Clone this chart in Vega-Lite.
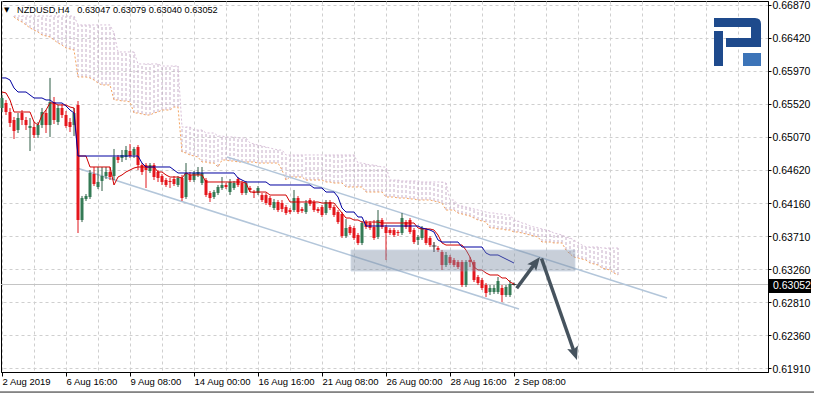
{
"$schema":"https://vega.github.io/schema/vega-lite/v6.json",
"width":767,"height":371,
"autosize":{"type":"none"},
"padding":{"left":1,"top":1,"right":46,"bottom":21},
"background":"#ffffff",
"config":{"view":{"stroke":"#000000","strokeWidth":1},"font":"Liberation Sans"},
"datasets":{
"candles":[
{"i":0,"o":0.65463,"c":0.65599,"h":0.65640,"l":0.65408},
{"i":1,"o":0.65531,"c":0.65408,"h":0.65572,"l":0.65367},
{"i":2,"o":0.65408,"c":0.65258,"h":0.65463,"l":0.65203},
{"i":3,"o":0.65299,"c":0.65149,"h":0.65340,"l":0.65039},
{"i":4,"o":0.65162,"c":0.65326,"h":0.65394,"l":0.65121},
{"i":5,"o":0.65394,"c":0.65299,"h":0.65435,"l":0.65230},
{"i":6,"o":0.65299,"c":0.65230,"h":0.65340,"l":0.65162},
{"i":7,"o":0.65190,"c":0.65217,"h":0.65326,"l":0.64875},
{"i":8,"o":0.65203,"c":0.65094,"h":0.65271,"l":0.65053},
{"i":9,"o":0.65094,"c":0.65230,"h":0.65271,"l":0.65053},
{"i":10,"o":0.65230,"c":0.65408,"h":0.65463,"l":0.65190},
{"i":11,"o":0.65394,"c":0.65230,"h":0.65435,"l":0.65121},
{"i":12,"o":0.65230,"c":0.65545,"h":0.65873,"l":0.65067},
{"i":13,"o":0.65545,"c":0.65299,"h":0.65613,"l":0.65244},
{"i":14,"o":0.65271,"c":0.65463,"h":0.65504,"l":0.65230},
{"i":15,"o":0.65463,"c":0.65367,"h":0.65517,"l":0.65326},
{"i":16,"o":0.65367,"c":0.65217,"h":0.65422,"l":0.65190},
{"i":17,"o":0.65271,"c":0.65203,"h":0.65326,"l":0.65135},
{"i":18,"o":0.65230,"c":0.65394,"h":0.65463,"l":0.65080},
{"i":19,"o":0.65504,"c":0.63933,"h":0.65558,"l":0.63755},
{"i":20,"o":0.63933,"c":0.64233,"h":0.64261,"l":0.63905},
{"i":21,"o":0.64220,"c":0.64261,"h":0.64288,"l":0.64192},
{"i":22,"o":0.64247,"c":0.64575,"h":0.64616,"l":0.64220},
{"i":23,"o":0.64561,"c":0.64425,"h":0.64657,"l":0.64397},
{"i":24,"o":0.64384,"c":0.64452,"h":0.64657,"l":0.64356},
{"i":25,"o":0.64466,"c":0.64534,"h":0.64657,"l":0.64329},
{"i":26,"o":0.64534,"c":0.64589,"h":0.64657,"l":0.64493},
{"i":27,"o":0.64589,"c":0.64520,"h":0.64657,"l":0.64479},
{"i":28,"o":0.64534,"c":0.64793,"h":0.64903,"l":0.64479},
{"i":29,"o":0.64793,"c":0.64752,"h":0.64821,"l":0.64711},
{"i":30,"o":0.64780,"c":0.64821,"h":0.64889,"l":0.64725},
{"i":31,"o":0.64793,"c":0.64889,"h":0.64944,"l":0.64752},
{"i":32,"o":0.64875,"c":0.64807,"h":0.64971,"l":0.64780},
{"i":33,"o":0.64821,"c":0.64903,"h":0.64930,"l":0.64780},
{"i":34,"o":0.64930,"c":0.64684,"h":0.64957,"l":0.64616},
{"i":35,"o":0.64684,"c":0.64589,"h":0.64711,"l":0.64548},
{"i":36,"o":0.64684,"c":0.64616,"h":0.64711,"l":0.64370},
{"i":37,"o":0.64602,"c":0.64684,"h":0.64711,"l":0.64575},
{"i":38,"o":0.64684,"c":0.64520,"h":0.64711,"l":0.64479},
{"i":39,"o":0.64589,"c":0.64507,"h":0.64616,"l":0.64452},
{"i":40,"o":0.64534,"c":0.64452,"h":0.64561,"l":0.64411},
{"i":41,"o":0.64479,"c":0.64411,"h":0.64507,"l":0.64384},
{"i":42,"o":0.64466,"c":0.64452,"h":0.64507,"l":0.64370},
{"i":43,"o":0.64493,"c":0.64425,"h":0.64534,"l":0.64397},
{"i":44,"o":0.64411,"c":0.64507,"h":0.64534,"l":0.64384},
{"i":45,"o":0.64507,"c":0.64233,"h":0.64548,"l":0.64192},
{"i":46,"o":0.64247,"c":0.64575,"h":0.64711,"l":0.64220},
{"i":47,"o":0.64548,"c":0.64479,"h":0.64589,"l":0.64452},
{"i":48,"o":0.64479,"c":0.64575,"h":0.64602,"l":0.64452},
{"i":49,"o":0.64548,"c":0.64589,"h":0.64657,"l":0.64520},
{"i":50,"o":0.64438,"c":0.64575,"h":0.64657,"l":0.64411},
{"i":51,"o":0.64479,"c":0.64274,"h":0.64507,"l":0.64247},
{"i":52,"o":0.64302,"c":0.64233,"h":0.64329,"l":0.64179},
{"i":53,"o":0.64247,"c":0.64315,"h":0.64343,"l":0.64220},
{"i":54,"o":0.64302,"c":0.64384,"h":0.64411,"l":0.64274},
{"i":55,"o":0.64370,"c":0.64411,"h":0.64520,"l":0.64343},
{"i":56,"o":0.64411,"c":0.64384,"h":0.64438,"l":0.64356},
{"i":57,"o":0.64315,"c":0.64452,"h":0.64493,"l":0.64274},
{"i":58,"o":0.64370,"c":0.64438,"h":0.64466,"l":0.64343},
{"i":59,"o":0.64493,"c":0.64411,"h":0.64520,"l":0.64384},
{"i":60,"o":0.64438,"c":0.64302,"h":0.64466,"l":0.64274},
{"i":61,"o":0.64302,"c":0.64438,"h":0.64466,"l":0.64274},
{"i":62,"o":0.64370,"c":0.64343,"h":0.64397,"l":0.64315},
{"i":63,"o":0.64315,"c":0.64302,"h":0.64343,"l":0.64233},
{"i":64,"o":0.64302,"c":0.64370,"h":0.64397,"l":0.64274},
{"i":65,"o":0.64274,"c":0.64206,"h":0.64302,"l":0.64179},
{"i":66,"o":0.64274,"c":0.64165,"h":0.64302,"l":0.64138},
{"i":67,"o":0.64233,"c":0.64138,"h":0.64261,"l":0.64110},
{"i":68,"o":0.64097,"c":0.64179,"h":0.64220,"l":0.64069},
{"i":69,"o":0.64179,"c":0.64069,"h":0.64206,"l":0.64042},
{"i":70,"o":0.64165,"c":0.64083,"h":0.64206,"l":0.64042},
{"i":71,"o":0.64110,"c":0.64028,"h":0.64138,"l":0.64001},
{"i":72,"o":0.64069,"c":0.64042,"h":0.64097,"l":0.64015},
{"i":73,"o":0.64069,"c":0.64233,"h":0.64343,"l":0.64042},
{"i":74,"o":0.64233,"c":0.64042,"h":0.64261,"l":0.64015},
{"i":75,"o":0.64083,"c":0.64056,"h":0.64110,"l":0.64028},
{"i":76,"o":0.64042,"c":0.64165,"h":0.64206,"l":0.64015},
{"i":77,"o":0.64206,"c":0.64151,"h":0.64233,"l":0.64124},
{"i":78,"o":0.64179,"c":0.64069,"h":0.64206,"l":0.64042},
{"i":79,"o":0.64083,"c":0.64056,"h":0.64110,"l":0.64028},
{"i":80,"o":0.64110,"c":0.64001,"h":0.64138,"l":0.63974},
{"i":81,"o":0.64028,"c":0.64179,"h":0.64206,"l":0.64001},
{"i":82,"o":0.64179,"c":0.64097,"h":0.64206,"l":0.64069},
{"i":83,"o":0.64110,"c":0.64001,"h":0.64138,"l":0.63974},
{"i":84,"o":0.64042,"c":0.63905,"h":0.64069,"l":0.63878},
{"i":85,"o":0.64015,"c":0.63714,"h":0.64042,"l":0.63687},
{"i":86,"o":0.63714,"c":0.63824,"h":0.63946,"l":0.63687},
{"i":87,"o":0.63837,"c":0.63755,"h":0.63865,"l":0.63728},
{"i":88,"o":0.63824,"c":0.63687,"h":0.63851,"l":0.63660},
{"i":89,"o":0.63728,"c":0.63619,"h":0.63755,"l":0.63591},
{"i":90,"o":0.63619,"c":0.63892,"h":0.63919,"l":0.63591},
{"i":91,"o":0.63905,"c":0.63837,"h":0.63933,"l":0.63810},
{"i":92,"o":0.63892,"c":0.63824,"h":0.63919,"l":0.63796},
{"i":93,"o":0.63837,"c":0.63687,"h":0.63933,"l":0.63660},
{"i":94,"o":0.63701,"c":0.63933,"h":0.64069,"l":0.63673},
{"i":95,"o":0.63933,"c":0.63837,"h":0.63960,"l":0.63810},
{"i":96,"o":0.63837,"c":0.63755,"h":0.63865,"l":0.63386},
{"i":97,"o":0.63796,"c":0.63755,"h":0.63824,"l":0.63728},
{"i":98,"o":0.63796,"c":0.63728,"h":0.63824,"l":0.63701},
{"i":99,"o":0.63769,"c":0.63755,"h":0.63796,"l":0.63714},
{"i":100,"o":0.63755,"c":0.63960,"h":0.64028,"l":0.63728},
{"i":101,"o":0.63905,"c":0.63837,"h":0.63933,"l":0.63810},
{"i":102,"o":0.63933,"c":0.63769,"h":0.63960,"l":0.63742},
{"i":103,"o":0.63796,"c":0.63632,"h":0.63824,"l":0.63605},
{"i":104,"o":0.63660,"c":0.63701,"h":0.63728,"l":0.63591},
{"i":105,"o":0.63687,"c":0.63824,"h":0.63851,"l":0.63660},
{"i":106,"o":0.63796,"c":0.63619,"h":0.63824,"l":0.63591},
{"i":107,"o":0.63687,"c":0.63591,"h":0.63714,"l":0.63564},
{"i":108,"o":0.63578,"c":0.63578,"h":0.63632,"l":0.63496},
{"i":109,"o":0.63550,"c":0.63523,"h":0.63578,"l":0.63496},
{"i":110,"o":0.63496,"c":0.63318,"h":0.63523,"l":0.63250},
{"i":111,"o":0.63318,"c":0.63455,"h":0.63496,"l":0.63291},
{"i":112,"o":0.63427,"c":0.63345,"h":0.63455,"l":0.63318},
{"i":113,"o":0.63386,"c":0.63318,"h":0.63414,"l":0.63291},
{"i":114,"o":0.63359,"c":0.63291,"h":0.63386,"l":0.63263},
{"i":115,"o":0.63359,"c":0.63045,"h":0.63386,"l":0.63018},
{"i":116,"o":0.63045,"c":0.63359,"h":0.63386,"l":0.63018},
{"i":117,"o":0.63386,"c":0.63359,"h":0.63427,"l":0.63291},
{"i":118,"o":0.63359,"c":0.63113,"h":0.63386,"l":0.63086},
{"i":119,"o":0.63154,"c":0.63072,"h":0.63182,"l":0.63045},
{"i":120,"o":0.63113,"c":0.63004,"h":0.63141,"l":0.62977},
{"i":121,"o":0.63045,"c":0.62936,"h":0.63072,"l":0.62881},
{"i":122,"o":0.62949,"c":0.63004,"h":0.63045,"l":0.62908},
{"i":123,"o":0.62949,"c":0.63004,"h":0.63045,"l":0.62922},
{"i":124,"o":0.62949,"c":0.63100,"h":0.63154,"l":0.62922},
{"i":125,"o":0.63004,"c":0.62908,"h":0.63045,"l":0.62813},
{"i":126,"o":0.62908,"c":0.63018,"h":0.63045,"l":0.62881},
{"i":127,"o":0.62908,"c":0.63059,"h":0.63113,"l":0.62881},
{"i":128,"o":0.63047,"c":0.63052,"h":0.63079,"l":0.63040}
],
"ichi":[
{"i":0,"t":0.65681,"k":0.65873},{"i":1,"t":0.65668,"k":0.65873},{"i":2,"t":0.65572,"k":0.65845},{"i":3,"t":0.65408,"k":0.65736},
{"i":4,"t":0.65408,"k":0.65681},{"i":5,"t":0.65408,"k":0.65681},{"i":6,"t":0.65408,"k":0.65681},{"i":7,"t":0.65408,"k":0.65640},
{"i":8,"t":0.65271,"k":0.65599},{"i":9,"t":0.65230,"k":0.65599},{"i":10,"t":0.65367,"k":0.65599},{"i":11,"t":0.65435,"k":0.65572},
{"i":12,"t":0.65531,"k":0.65572},{"i":13,"t":0.65531,"k":0.65531},{"i":14,"t":0.65504,"k":0.65531},{"i":15,"t":0.65504,"k":0.65531},
{"i":16,"t":0.65504,"k":0.65490},{"i":17,"t":0.65476,"k":0.65435},{"i":18,"t":0.65463,"k":0.65394},{"i":19,"t":0.64807,"k":0.64807},
{"i":20,"t":0.64807,"k":0.64807},{"i":21,"t":0.64807,"k":0.64807},{"i":22,"t":0.64657,"k":0.64807},{"i":23,"t":0.64657,"k":0.64807},
{"i":24,"t":0.64657,"k":0.64807},{"i":25,"t":0.64657,"k":0.64807},{"i":26,"t":0.64657,"k":0.64807},{"i":27,"t":0.64657,"k":0.64807},
{"i":28,"t":0.64411,"k":0.64807},{"i":29,"t":0.64520,"k":0.64807},{"i":30,"t":0.64548,"k":0.64807},{"i":31,"t":0.64589,"k":0.64807},
{"i":32,"t":0.64616,"k":0.64807},{"i":33,"t":0.64643,"k":0.64807},{"i":34,"t":0.64657,"k":0.64807},{"i":35,"t":0.64657,"k":0.64711},
{"i":36,"t":0.64657,"k":0.64657},{"i":37,"t":0.64657,"k":0.64657},{"i":38,"t":0.64657,"k":0.64657},{"i":39,"t":0.64589,"k":0.64657},
{"i":40,"t":0.64589,"k":0.64657},{"i":41,"t":0.64548,"k":0.64657},{"i":42,"t":0.64520,"k":0.64657},{"i":43,"t":0.64520,"k":0.64616},
{"i":44,"t":0.64520,"k":0.64575},{"i":45,"t":0.64507,"k":0.64575},{"i":46,"t":0.64575,"k":0.64575},{"i":47,"t":0.64548,"k":0.64575},
{"i":48,"t":0.64548,"k":0.64575},{"i":49,"t":0.64548,"k":0.64575},{"i":50,"t":0.64548,"k":0.64575},{"i":51,"t":0.64452,"k":0.64575},
{"i":52,"t":0.64452,"k":0.64575},{"i":53,"t":0.64452,"k":0.64575},{"i":54,"t":0.64452,"k":0.64575},{"i":55,"t":0.64452,"k":0.64575},
{"i":56,"t":0.64452,"k":0.64575},{"i":57,"t":0.64452,"k":0.64575},{"i":58,"t":0.64452,"k":0.64575},{"i":59,"t":0.64452,"k":0.64507},
{"i":60,"t":0.64452,"k":0.64479},{"i":61,"t":0.64438,"k":0.64452},{"i":62,"t":0.64315,"k":0.64452},{"i":63,"t":0.64315,"k":0.64452},
{"i":64,"t":0.64315,"k":0.64452},{"i":65,"t":0.64315,"k":0.64452},{"i":66,"t":0.64315,"k":0.64452},{"i":67,"t":0.64274,"k":0.64411},
{"i":68,"t":0.64274,"k":0.64411},{"i":69,"t":0.64274,"k":0.64411},{"i":70,"t":0.64274,"k":0.64411},{"i":71,"t":0.64274,"k":0.64411},
{"i":72,"t":0.64179,"k":0.64411},{"i":73,"t":0.64179,"k":0.64411},{"i":74,"t":0.64179,"k":0.64411},{"i":75,"t":0.64179,"k":0.64411},
{"i":76,"t":0.64179,"k":0.64411},{"i":77,"t":0.64179,"k":0.64411},{"i":78,"t":0.64179,"k":0.64370},{"i":79,"t":0.64179,"k":0.64370},
{"i":80,"t":0.64165,"k":0.64370},{"i":81,"t":0.64165,"k":0.64315},{"i":82,"t":0.64165,"k":0.64315},{"i":83,"t":0.64165,"k":0.64315},
{"i":84,"t":0.64097,"k":0.64247},{"i":85,"t":0.64028,"k":0.64097},{"i":86,"t":0.63960,"k":0.64042},{"i":87,"t":0.63960,"k":0.64042},
{"i":88,"t":0.63933,"k":0.64042},{"i":89,"t":0.63933,"k":0.63974},{"i":90,"t":0.63905,"k":0.63974},{"i":91,"t":0.63905,"k":0.63851},
{"i":92,"t":0.63905,"k":0.63851},{"i":93,"t":0.63905,"k":0.63851},{"i":94,"t":0.63905,"k":0.63851},{"i":95,"t":0.63892,"k":0.63851},
{"i":96,"t":0.63892,"k":0.63851},{"i":97,"t":0.63892,"k":0.63851},{"i":98,"t":0.63892,"k":0.63851},{"i":99,"t":0.63892,"k":0.63851},
{"i":100,"t":0.63892,"k":0.63851},{"i":101,"t":0.63892,"k":0.63851},{"i":102,"t":0.63892,"k":0.63851},{"i":103,"t":0.63892,"k":0.63851},
{"i":104,"t":0.63824,"k":0.63851},{"i":105,"t":0.63810,"k":0.63824},{"i":106,"t":0.63810,"k":0.63810},{"i":107,"t":0.63810,"k":0.63796},
{"i":108,"t":0.63796,"k":0.63769},{"i":109,"t":0.63728,"k":0.63660},{"i":110,"t":0.63619,"k":0.63632},{"i":111,"t":0.63591,"k":0.63632},
{"i":112,"t":0.63591,"k":0.63632},{"i":113,"t":0.63591,"k":0.63632},{"i":114,"t":0.63591,"k":0.63632},{"i":115,"t":0.63591,"k":0.63564},
{"i":116,"t":0.63523,"k":0.63564},{"i":117,"t":0.63427,"k":0.63564},{"i":118,"t":0.63291,"k":0.63564},{"i":119,"t":0.63250,"k":0.63564},
{"i":120,"t":0.63250,"k":0.63564},{"i":121,"t":0.63209,"k":0.63482},{"i":122,"t":0.63182,"k":0.63455},{"i":123,"t":0.63182,"k":0.63455},
{"i":124,"t":0.63182,"k":0.63455},{"i":125,"t":0.63141,"k":0.63427},{"i":126,"t":0.63141,"k":0.63400},{"i":127,"t":0.63086,"k":0.63373},
{"i":128,"t":0.63059,"k":0.63345}
],
"cloud":[
{"i":3,"a":0.66706,"b":0.66719},{"i":4,"a":0.66665,"b":0.66719},{"i":5,"a":0.66637,"b":0.66719},{"i":6,"a":0.66597,"b":0.66719},
{"i":7,"a":0.66556,"b":0.66719},{"i":8,"a":0.66528,"b":0.66719},{"i":9,"a":0.66501,"b":0.66719},{"i":10,"a":0.66460,"b":0.66719},
{"i":11,"a":0.66446,"b":0.66719},{"i":12,"a":0.66433,"b":0.66719},{"i":13,"a":0.66392,"b":0.66719},{"i":14,"a":0.66351,"b":0.66719},
{"i":15,"a":0.66323,"b":0.66719},{"i":16,"a":0.66282,"b":0.66719},{"i":17,"a":0.66269,"b":0.66719},{"i":18,"a":0.66255,"b":0.66719},
{"i":19,"a":0.65886,"b":0.66597},{"i":20,"a":0.65886,"b":0.66597},{"i":21,"a":0.65886,"b":0.66597},{"i":22,"a":0.65873,"b":0.66597},
{"i":23,"a":0.65845,"b":0.66597},{"i":24,"a":0.65804,"b":0.66597},{"i":25,"a":0.65777,"b":0.66597},{"i":26,"a":0.65777,"b":0.66597},
{"i":27,"a":0.65777,"b":0.66597},{"i":28,"a":0.65572,"b":0.66487},{"i":29,"a":0.65572,"b":0.66228},{"i":30,"a":0.65558,"b":0.66228},
{"i":31,"a":0.65558,"b":0.66228},{"i":32,"a":0.65545,"b":0.66228},{"i":33,"a":0.65394,"b":0.66228},{"i":34,"a":0.65394,"b":0.66064},
{"i":35,"a":0.65381,"b":0.66064},{"i":36,"a":0.65367,"b":0.66064},{"i":37,"a":0.65367,"b":0.66064},{"i":38,"a":0.65394,"b":0.66064},
{"i":39,"a":0.65408,"b":0.66064},{"i":40,"a":0.65435,"b":0.66036},{"i":41,"a":0.65435,"b":0.66036},{"i":42,"a":0.65435,"b":0.66036},
{"i":43,"a":0.65476,"b":0.66036},{"i":44,"a":0.65476,"b":0.66036},{"i":45,"a":0.64862,"b":0.65203},{"i":46,"a":0.64848,"b":0.65203},
{"i":47,"a":0.64821,"b":0.65203},{"i":48,"a":0.64807,"b":0.65162},{"i":49,"a":0.64793,"b":0.65162},{"i":50,"a":0.64725,"b":0.65162},
{"i":51,"a":0.64725,"b":0.65121},{"i":52,"a":0.64711,"b":0.65121},{"i":53,"a":0.64711,"b":0.65121},{"i":54,"a":0.64657,"b":0.65080},
{"i":55,"a":0.64752,"b":0.65080},{"i":56,"a":0.64752,"b":0.65067},{"i":57,"a":0.64739,"b":0.65067},{"i":58,"a":0.64739,"b":0.65067},
{"i":59,"a":0.64725,"b":0.65053},{"i":60,"a":0.64725,"b":0.65053},{"i":61,"a":0.64725,"b":0.65053},{"i":62,"a":0.64725,"b":0.64985},
{"i":63,"a":0.64725,"b":0.64971},{"i":64,"a":0.64711,"b":0.64957},{"i":65,"a":0.64711,"b":0.64944},{"i":66,"a":0.64711,"b":0.64930},
{"i":67,"a":0.64711,"b":0.64916},{"i":68,"a":0.64711,"b":0.64903},{"i":69,"a":0.64711,"b":0.64889},{"i":70,"a":0.64616,"b":0.64889},
{"i":71,"a":0.64479,"b":0.64821},{"i":72,"a":0.64520,"b":0.64821},{"i":73,"a":0.64520,"b":0.64821},{"i":74,"a":0.64520,"b":0.64821},
{"i":75,"a":0.64520,"b":0.64821},{"i":76,"a":0.64479,"b":0.64821},{"i":77,"a":0.64479,"b":0.64821},{"i":78,"a":0.64479,"b":0.64821},
{"i":79,"a":0.64479,"b":0.64821},{"i":80,"a":0.64479,"b":0.64821},{"i":81,"a":0.64452,"b":0.64821},{"i":82,"a":0.64452,"b":0.64821},
{"i":83,"a":0.64438,"b":0.64821},{"i":84,"a":0.64438,"b":0.64821},{"i":85,"a":0.64438,"b":0.64821},{"i":86,"a":0.64384,"b":0.64821},
{"i":87,"a":0.64384,"b":0.64821},{"i":88,"a":0.64384,"b":0.64821},{"i":89,"a":0.64384,"b":0.64711},{"i":90,"a":0.64384,"b":0.64711},
{"i":91,"a":0.64315,"b":0.64698},{"i":92,"a":0.64315,"b":0.64684},{"i":93,"a":0.64315,"b":0.64684},{"i":94,"a":0.64315,"b":0.64670},
{"i":95,"a":0.64315,"b":0.64657},{"i":96,"a":0.64247,"b":0.64657},{"i":97,"a":0.64247,"b":0.64479},{"i":98,"a":0.64247,"b":0.64479},
{"i":99,"a":0.64233,"b":0.64479},{"i":100,"a":0.64233,"b":0.64466},{"i":101,"a":0.64233,"b":0.64466},{"i":102,"a":0.64220,"b":0.64466},
{"i":103,"a":0.64220,"b":0.64466},{"i":104,"a":0.64206,"b":0.64466},{"i":105,"a":0.64206,"b":0.64452},{"i":106,"a":0.64206,"b":0.64452},
{"i":107,"a":0.64206,"b":0.64452},{"i":108,"a":0.64192,"b":0.64452},{"i":109,"a":0.64179,"b":0.64452},{"i":110,"a":0.64165,"b":0.64452},
{"i":111,"a":0.64069,"b":0.64438},{"i":112,"a":0.64069,"b":0.64206},{"i":113,"a":0.64069,"b":0.64206},{"i":114,"a":0.64028,"b":0.64138},
{"i":115,"a":0.64015,"b":0.64124},{"i":116,"a":0.64001,"b":0.64110},{"i":117,"a":0.63987,"b":0.64097},{"i":118,"a":0.63960,"b":0.64083},
{"i":119,"a":0.63933,"b":0.64069},{"i":120,"a":0.63919,"b":0.64056},{"i":121,"a":0.63905,"b":0.64042},{"i":122,"a":0.63824,"b":0.64028},
{"i":123,"a":0.63824,"b":0.64028},{"i":124,"a":0.63810,"b":0.64015},{"i":125,"a":0.63810,"b":0.64015},{"i":126,"a":0.63796,"b":0.64001},
{"i":127,"a":0.63796,"b":0.64001},{"i":128,"a":0.63769,"b":0.63933},{"i":129,"a":0.63769,"b":0.63919},{"i":130,"a":0.63755,"b":0.63892},
{"i":131,"a":0.63742,"b":0.63878},{"i":132,"a":0.63728,"b":0.63851},{"i":133,"a":0.63714,"b":0.63837},{"i":134,"a":0.63701,"b":0.63824},
{"i":135,"a":0.63632,"b":0.63810},{"i":136,"a":0.63632,"b":0.63796},{"i":137,"a":0.63632,"b":0.63783},{"i":138,"a":0.63619,"b":0.63755},
{"i":139,"a":0.63619,"b":0.63742},{"i":140,"a":0.63619,"b":0.63728},{"i":141,"a":0.63523,"b":0.63701},{"i":142,"a":0.63468,"b":0.63687},
{"i":143,"a":0.63427,"b":0.63660},{"i":144,"a":0.63414,"b":0.63619},{"i":145,"a":0.63400,"b":0.63591},{"i":146,"a":0.63386,"b":0.63564},
{"i":147,"a":0.63345,"b":0.63564},{"i":148,"a":0.63332,"b":0.63564},{"i":149,"a":0.63318,"b":0.63564},{"i":150,"a":0.63277,"b":0.63550},
{"i":151,"a":0.63263,"b":0.63550},{"i":152,"a":0.63250,"b":0.63550},{"i":153,"a":0.63209,"b":0.63550},{"i":154,"a":0.63182,"b":0.63550}
],
"channels":[
{"line":"upper","i":56.25,"p":0.64793},{"line":"upper","i":166.25,"p":0.62867},
{"line":"lower","i":18.75,"p":0.64643},{"line":"lower","i":129.25,"p":0.62717}
],
"zone":[{"i1":87.25,"i2":143.25,"p1":0.63523,"p2":0.63236}],
"arrows":[
{"arrow":"up","i":128.675,"p":0.63000},{"arrow":"up","i":133.35,"p":0.63347},
{"arrow":"down","i":134.875,"p":0.63407},{"arrow":"down","i":143.125,"p":0.62117}
]
},
"layer":[
{"data":{"name":"cloud"},
 "mark":{"type":"rule","color":"#C6AEC8","strokeWidth":1,"strokeDash":[3,2]},
 "encoding":{
  "x":{"field":"i","type":"quantitative","title":null,"scale":{"domain":[-0.25,191.5],"nice":false,"zero":false,"padding":0},
   "axis":{"title":null,"tickCount":100,"values":[0,8,16,24,32,40,48,56,64,72,80,88,96,104,112,120,128,136,144,152,160,168,176,184],
    "labelExpr":"datum.value==0?'2 Aug 2019':datum.value==16?'6 Aug 16:00':datum.value==32?'9 Aug 08:00':datum.value==48?'14 Aug 00:00':datum.value==64?'16 Aug 16:00':datum.value==80?'21 Aug 08:00':datum.value==96?'26 Aug 00:00':datum.value==112?'28 Aug 16:00':datum.value==128?'2 Sep 08:00':''",
    "labelAlign":"left","labelBaseline":"top","labelPadding":0,"labelFontSize":9.5,"labelColor":"#000000","labelFont":"Liberation Sans",
    "labelOverlap":false,"labelFlush":false,"labelBound":false,"labelDx":-1,
    "tickColor":"#000000","tickSize":4,"tickOpacity":{"condition":{"test":"datum.value % 16 === 0 && datum.value <= 128","value":1},"value":0},
    "domainColor":"#000000","grid":true,"gridColor":"#CFCFCF","gridDash":[3,3]}},
  "y":{"field":"a","type":"quantitative","title":null,"scale":{"domain":[0.61857,0.66924],"nice":false,"zero":false,"padding":0},
   "axis":{"title":null,"orient":"right","tickCount":100,"values":[0.6687,0.6642,0.6597,0.6552,0.6507,0.6462,0.6416,0.6371,0.6326,0.6281,0.6236,0.6191],
    "format":".5f","labelAlign":"left","labelBaseline":"middle","labelPadding":1,"labelOffset":1,"tickSize":3,"tickColor":"#000000","domainColor":"#000000",
    "labelFontSize":10.5,"labelColor":"#000000","labelFont":"Liberation Sans","labelOverlap":false,"labelFlush":false,"labelBound":false,
    "grid":true,"gridColor":"#CFCFCF","gridDash":[3,3]}},
  "y2":{"field":"b"}}},
{"data":{"name":"cloud"},"mark":{"type":"line","color":"#F4A460","strokeWidth":1,"strokeDash":[2,2]},
 "encoding":{"x":{"field":"i","type":"quantitative"},"y":{"field":"a","type":"quantitative"}}},
{"data":{"name":"cloud"},"mark":{"type":"line","color":"#D8BFD8","strokeWidth":1,"strokeDash":[2,2]},
 "encoding":{"x":{"field":"i","type":"quantitative"},"y":{"field":"b","type":"quantitative"}}},
{"data":{"values":[{"p":0.63052}]},"mark":{"type":"rule","color":"#C4C4C4","strokeWidth":1},"encoding":{"y":{"field":"p","type":"quantitative"}}},
{"data":{"name":"channels"},"mark":{"type":"line","color":"#B3C6DA","strokeWidth":1.5},
 "encoding":{"x":{"field":"i","type":"quantitative"},"y":{"field":"p","type":"quantitative"},"detail":{"field":"line"}}},
{"data":{"name":"candles"},"transform":[{"filter":"!(datum.c > datum.o + 0.00008)"}],"mark":{"type":"rule","strokeWidth":1},
 "encoding":{"x":{"field":"i","type":"quantitative"},"y":{"field":"l","type":"quantitative"},"y2":{"field":"h"},
  "color":{"condition":{"test":"abs(datum.c-datum.o) < 0.00008","value":"#1A1A1A"},"value":"#E0161C"}}},
{"data":{"name":"candles"},"transform":[{"filter":"datum.c > datum.o + 0.00008"}],"mark":{"type":"rule","strokeWidth":1,"color":"#2F5C45"},
 "encoding":{"x":{"field":"i","type":"quantitative"},"y":{"field":"l","type":"quantitative"},"y2":{"field":"h"}}},
{"data":{"name":"candles"},"mark":{"type":"bar","size":3},
 "encoding":{"x":{"field":"i","type":"quantitative"},"y":{"field":"o","type":"quantitative"},"y2":{"field":"c"},
  "color":{"condition":{"test":"datum.c > datum.o","value":"#347A55"},"value":"#E5161C"}}},
{"data":{"name":"candles"},"transform":[{"filter":"abs(datum.c-datum.o) < 0.00008"}],"mark":{"type":"tick","orient":"horizontal","size":5,"thickness":1,"color":"#1A1A1A"},
 "encoding":{"x":{"field":"i","type":"quantitative"},"y":{"field":"c","type":"quantitative"}}},
{"data":{"name":"ichi"},"mark":{"type":"line","color":"#D00000","strokeWidth":1},
 "encoding":{"x":{"field":"i","type":"quantitative"},"y":{"field":"t","type":"quantitative"}}},
{"data":{"name":"ichi"},"mark":{"type":"line","color":"#0000A0","strokeWidth":1},
 "encoding":{"x":{"field":"i","type":"quantitative"},"y":{"field":"k","type":"quantitative"}}},
{"data":{"name":"zone"},"mark":{"type":"rect","color":"#7D8FA6","opacity":0.42,"stroke":"#8FA8C8","strokeWidth":1,"strokeOpacity":0.8},
 "encoding":{"x":{"field":"i1","type":"quantitative"},"x2":{"field":"i2"},"y":{"field":"p1","type":"quantitative"},"y2":{"field":"p2"}}},
{"data":{"name":"arrows"},"mark":{"type":"line","color":"#46535E","strokeWidth":3.5},
 "encoding":{"x":{"field":"i","type":"quantitative"},"y":{"field":"p","type":"quantitative"},"detail":{"field":"arrow"}}},
{"data":{"values":[{"i":133.35,"p":0.63347}]},"mark":{"type":"point","shape":"M0,-1L0.75,0.8L0,0.45L-0.75,0.8Z","size":225,"angle":38,"filled":true,"color":"#46535E","opacity":1},
 "encoding":{"x":{"field":"i","type":"quantitative"},"y":{"field":"p","type":"quantitative"}}},
{"data":{"values":[{"i":143.125,"p":0.62117}]},"mark":{"type":"point","shape":"M0,-1L0.75,0.8L0,0.45L-0.75,0.8Z","size":225,"angle":161,"filled":true,"color":"#46535E","opacity":1},
 "encoding":{"x":{"field":"i","type":"quantitative"},"y":{"field":"p","type":"quantitative"}}},
{"data":{"values":[{"i":183.75,"p":0.66364}]},"mark":{"type":"point","shape":"M-0.92,-0.96L0.72,-0.96Q0.96,-0.96 0.96,-0.72L0.96,0.2L-0.44,0.2L-0.44,-0.16L0.56,-0.16L0.56,-0.6L-0.92,-0.6Z M-0.92,-0.44L-0.56,-0.44L-0.56,0.96L-0.92,0.96Z","size":2500,"filled":true,"color":"#1E4A8C","opacity":1},
 "encoding":{"x":{"field":"i","type":"quantitative"},"y":{"field":"p","type":"quantitative"}}},
{"data":{"values":[{"i":183.75,"p":0.66364}]},"mark":{"type":"point","shape":"M0.24,0.44L0.96,0.44L0.96,0.96L0.24,0.96Z","size":2500,"filled":true,"color":"#3C74B8","opacity":1},
 "encoding":{"x":{"field":"i","type":"quantitative"},"y":{"field":"p","type":"quantitative"}}},
{"data":{"values":[{"i1":191.5,"i2":202.25,"p1":0.63127,"p2":0.62936}]},"mark":{"type":"rect","color":"#000000"},
 "encoding":{"x":{"field":"i1","type":"quantitative"},"x2":{"field":"i2"},"y":{"field":"p1","type":"quantitative"},"y2":{"field":"p2"}}},
{"data":{"values":[{"i":192.75,"p":0.63031,"label":"0.63052"}]},"mark":{"type":"text","color":"#FFFFFF","align":"left","baseline":"middle","fontSize":10.5,"font":"Liberation Sans"},
 "encoding":{"x":{"field":"i","type":"quantitative"},"y":{"field":"p","type":"quantitative"},"text":{"field":"label"}}},
{"data":{"values":[{"i":0.5,"p":0.66801,"label":"▼"}]},"mark":{"type":"text","color":"#000000","align":"left","baseline":"middle","fontSize":7,"font":"DejaVu Sans"},
 "encoding":{"x":{"field":"i","type":"quantitative"},"y":{"field":"p","type":"quantitative"},"text":{"field":"label"}}},
{"data":{"values":[{"i":3.75,"p":0.66801,"label":"NZDUSD,H4\u00a0\u00a0\u00a00.63047 0.63079 0.63040 0.63052"}]},"mark":{"type":"text","color":"#000000","align":"left","baseline":"middle","fontSize":9.2,"font":"Liberation Sans"},
 "encoding":{"x":{"field":"i","type":"quantitative"},"y":{"field":"p","type":"quantitative"},"text":{"field":"label"}}},
{"data":{"values":[{"i1":-1,"i2":203,"p":0.61583}]},"mark":{"type":"rule","color":"#202020","strokeWidth":1},
 "encoding":{"x":{"field":"i1","type":"quantitative"},"x2":{"field":"i2"},"y":{"field":"p","type":"quantitative"}}}
]
}
